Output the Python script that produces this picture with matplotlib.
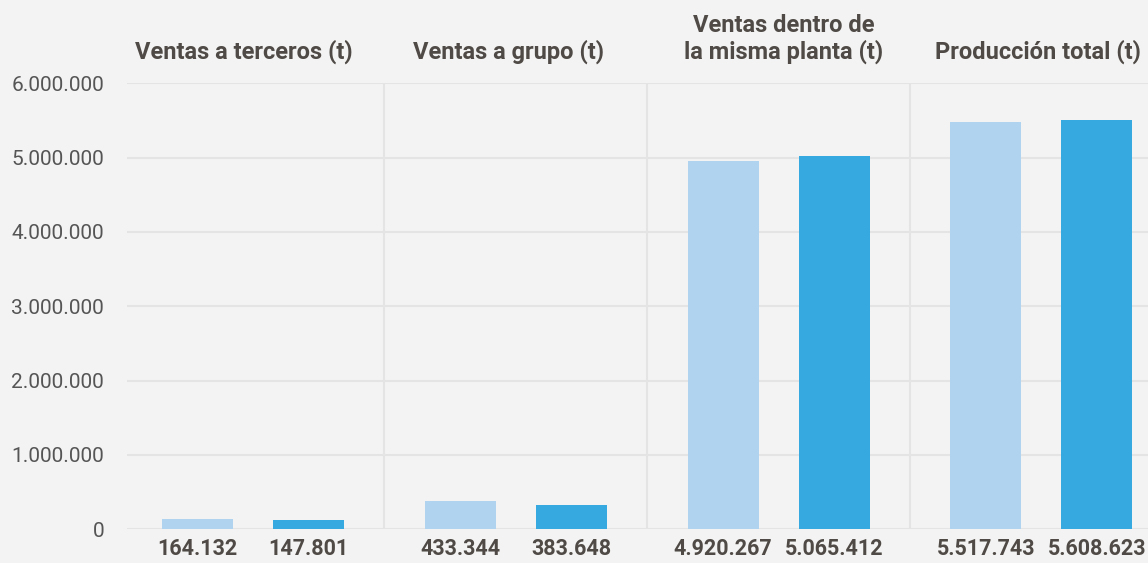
import matplotlib
matplotlib.use("Agg")
import matplotlib.pyplot as plt
import matplotlib.transforms as mtransforms
from matplotlib.ticker import FuncFormatter

plt.rcParams['font.family'] = ['Roboto', 'DejaVu Sans']

categories = ["Ventas a terceros (t)", "Ventas a grupo (t)",
              "Ventas dentro de\nla misma planta (t)", "Producción total (t)"]
# bar heights as drawn in the reference
series_a = [139000, 380000, 4950000, 5475000]
series_b = [125000, 329000, 5017000, 5500000]
# value labels printed under the bars
labels_a = ["164.132", "433.344", "4.920.267", "5.517.743"]
labels_b = ["147.801", "383.648", "5.065.412", "5.608.623"]
yticks = [0, 1000000, 2000000, 3000000, 4000000, 5000000, 6000000]

W, H = 1148, 563
BG = "#f3f3f3"
TXT = "#4f4a45"
GRID = "#e4e4e4"
LIGHT = "#b0d3f0"
DARK = "#36a9e0"

fig = plt.figure(figsize=(W / 100, H / 100), dpi=100, facecolor=BG)
left_px, right_px = 127, 1148
top_px, bot_px = 83.3, 529.3
ax = fig.add_axes([left_px / W, 1 - bot_px / H, (right_px - left_px) / W, (bot_px - top_px) / H])
ax.set_facecolor(BG)

unit = 262.8
c0 = 253
ax.set_xlim((left_px - c0) / unit, (right_px - c0) / unit)
ax.set_ylim(0, 6000000)

off = 55.5 / unit
bw = 71 / unit
xs = list(range(len(categories)))
ax.bar([x - off for x in xs], series_a, width=bw, color=LIGHT, zorder=3)
ax.bar([x + off for x in xs], series_b, width=bw, color=DARK, zorder=3)

ax.set_yticks(yticks)
ax.yaxis.set_major_formatter(FuncFormatter(lambda v, p: f"{int(v):,}".replace(",", ".")))
ax.tick_params(axis='y', length=0, pad=16.5, labelsize=15, labelcolor="#555555")
ax.set_xticks([])
ax.grid(axis='y', color=GRID, linewidth=1.5, zorder=0)
for s in ax.spines.values():
    s.set_visible(False)

for x in xs[:-1]:
    ax.axvline(x + 0.5, color=GRID, linewidth=1.5, zorder=0)

title_shift = [-9, -7, 5, -3]  # small horizontal nudges (px) seen in the reference
for x, cat, dx in zip(xs, categories, title_shift):
    tr = mtransforms.offset_copy(ax.get_xaxis_transform(), fig=fig, x=dx, y=25, units='dots')
    ax.text(x, 1.0, cat, transform=tr, ha='center', va='baseline',
            fontsize=17, fontweight='bold', color=TXT, linespacing=1.12)

trans_bot = mtransforms.offset_copy(ax.get_xaxis_transform(), fig=fig, x=0, y=-25.7, units='dots')
for x, la, lb in zip(xs, labels_a, labels_b):
    ax.text(x - off, 0, la, transform=trans_bot, ha='center', va='baseline',
            fontsize=15.5, fontweight='bold', color=TXT)
    ax.text(x + off, 0, lb, transform=trans_bot, ha='center', va='baseline',
            fontsize=15.5, fontweight='bold', color=TXT)

fig.savefig("out.png", dpi=100, facecolor=BG)
